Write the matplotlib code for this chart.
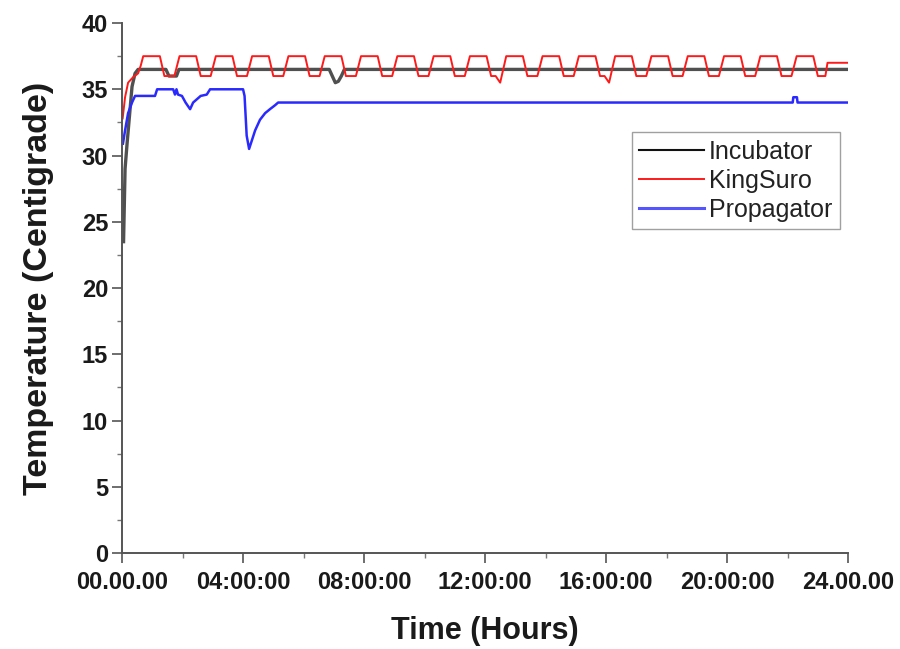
import matplotlib
matplotlib.use("Agg")
import matplotlib.pyplot as plt
from matplotlib.ticker import MultipleLocator

plt.rcParams['font.family'] = ['Liberation Sans', 'DejaVu Sans']

# ---- data (time in hours, temperature in degrees C) ----
incubator_t = [0.05, 0.10, 0.17, 0.33, 0.43, 0.53, 1.45, 1.55, 1.80, 1.88,
               6.85, 6.95, 7.05, 7.15, 7.25, 7.35, 24.0]
incubator_v = [23.5, 29.0, 31.0, 35.2, 36.2, 36.5, 36.5, 36.0, 36.0, 36.5,
               36.5, 36.0, 35.5, 35.6, 36.0, 36.5, 36.5]

kingsuro_t = [0.02, 0.10, 0.20, 0.36, 0.53, 0.62,
              0.70, 1.25, 1.40, 1.73,
              1.90, 2.45, 2.60, 2.93,
              3.10, 3.65, 3.80, 4.13,
              4.30, 4.85, 5.00, 5.33,
              5.50, 6.05, 6.20, 6.53,
              6.70, 7.25, 7.40, 7.73,
              7.90, 8.45, 8.60, 8.93,
              9.10, 9.65, 9.80, 10.13,
              10.30, 10.85, 11.00, 11.33,
              11.50, 12.05, 12.20, 12.35, 12.50,
              12.70, 13.25, 13.40, 13.73,
              13.90, 14.45, 14.60, 14.93,
              15.10, 15.65, 15.80, 15.95, 16.10,
              16.30, 16.85, 17.00, 17.33,
              17.50, 18.05, 18.20, 18.53,
              18.70, 19.25, 19.40, 19.73,
              19.90, 20.45, 20.60, 20.93,
              21.10, 21.65, 21.80, 22.13,
              22.30, 22.85, 23.00, 23.25, 23.32, 24.0]
kingsuro_v = [32.8, 34.4, 35.5, 35.9, 36.2, 36.8,
              37.5, 37.5, 36.0, 36.0,
              37.5, 37.5, 36.0, 36.0,
              37.5, 37.5, 36.0, 36.0,
              37.5, 37.5, 36.0, 36.0,
              37.5, 37.5, 36.0, 36.0,
              37.5, 37.5, 36.0, 36.0,
              37.5, 37.5, 36.0, 36.0,
              37.5, 37.5, 36.0, 36.0,
              37.5, 37.5, 36.0, 36.0,
              37.5, 37.5, 36.0, 36.0, 35.5,
              37.5, 37.5, 36.0, 36.0,
              37.5, 37.5, 36.0, 36.0,
              37.5, 37.5, 36.0, 36.0, 35.5,
              37.5, 37.5, 36.0, 36.0,
              37.5, 37.5, 36.0, 36.0,
              37.5, 37.5, 36.0, 36.0,
              37.5, 37.5, 36.0, 36.0,
              37.5, 37.5, 36.0, 36.0,
              37.5, 37.5, 36.0, 36.0, 37.0, 37.0]

propagator_t = [0.03, 0.10, 0.20, 0.33, 0.43, 1.09, 1.16, 1.69, 1.75, 1.80,
                1.85, 1.98, 2.10, 2.25, 2.35, 2.45, 2.60, 2.80, 2.91,
                4.00, 4.05, 4.12, 4.20, 4.40, 4.56, 4.73, 4.89, 5.06, 5.16,
                22.17, 22.19, 22.31, 22.33, 24.0]
propagator_v = [30.9, 31.9, 33.2, 34.0, 34.5, 34.5, 35.0, 35.0, 34.6, 35.0,
                34.6, 34.5, 34.0, 33.5, 34.0, 34.2, 34.5, 34.6, 35.0,
                35.0, 34.5, 31.5, 30.5, 31.9, 32.7, 33.2, 33.5, 33.8, 34.0,
                34.0, 34.4, 34.4, 34.0, 34.0]

xtick_pos = [0, 4, 8, 12, 16, 20, 24]
xtick_labels = ['00.00.00', '04:00:00', '08:00:00', '12:00:00',
                '16:00:00', '20:00:00', '24.00.00']
ytick_pos = [0, 5, 10, 15, 20, 25, 30, 35, 40]

fig = plt.figure(figsize=(9, 6.49), dpi=100)
ax = fig.add_axes([0.1356, 0.1479, 0.8067, 0.8166])

ax.plot(incubator_t, incubator_v, color='#505050', lw=2.4, label='Incubator')
ax.plot(kingsuro_t, kingsuro_v, color='#ff1a1a', lw=1.4, label='KingSuro')
ax.plot(propagator_t, propagator_v, color='#2a2aff', lw=1.8, label='Propagator')

ax.set_xlim(0, 24)
ax.set_ylim(0, 40)
ax.set_xticks(xtick_pos)
ax.set_xticklabels(xtick_labels)
ax.set_yticks(ytick_pos)
ax.xaxis.set_minor_locator(MultipleLocator(2))
ax.yaxis.set_minor_locator(MultipleLocator(2.5))

for s in ['top', 'right']:
    ax.spines[s].set_visible(False)
for s in ['left', 'bottom']:
    ax.spines[s].set_color('#555555')
    ax.spines[s].set_linewidth(1.4)

ax.tick_params(which='major', direction='out', length=7, width=1.2,
               color='#555555', labelsize=17, pad=3)
ax.tick_params(axis='x', which='major', pad=6)
ax.tick_params(which='minor', direction='out', length=3.5, width=1.0,
               color='#777777')
for lab in ax.get_xticklabels() + ax.get_yticklabels():
    lab.set_fontweight('bold')
    lab.set_color('#1a1a1a')

ax.set_xlabel('Time (Hours)', fontsize=22, fontweight='bold', labelpad=16,
              color='#1a1a1a')
ax.set_ylabel('Temperature (Centigrade)', fontsize=24.5, fontweight='bold',
              labelpad=20, color='#1a1a1a')

leg = ax.legend(loc='upper right', bbox_to_anchor=(0.989, 0.794),
                borderaxespad=0, fontsize=18, handlelength=2.6,
                handletextpad=0.2, labelspacing=0.2, borderpad=0.3,
                fancybox=False, frameon=True)
leg.get_frame().set_edgecolor('#888888')
leg.get_frame().set_linewidth(1.0)
for t in leg.get_texts():
    t.set_color('#222222')
leg_lines = leg.get_lines()
leg_lines[0].set_color('#111111')
leg_lines[0].set_linewidth(1.5)
leg_lines[2].set_color('#5555ff')
leg_lines[2].set_linewidth(2.2)

fig.savefig('out.png', dpi=100)
